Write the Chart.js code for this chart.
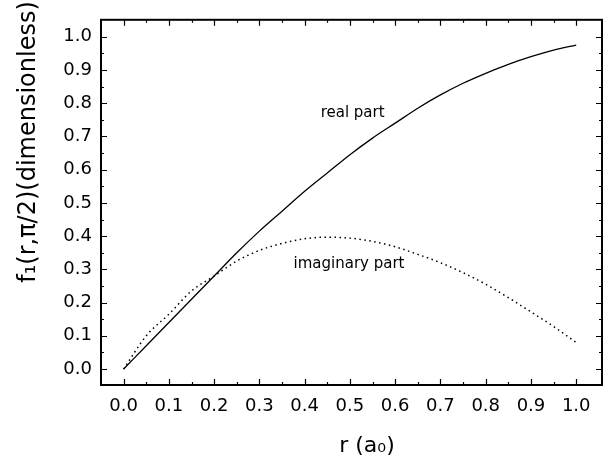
<!DOCTYPE html>
<html>
<head>
<meta charset="utf-8">
<script src="https://cdn.jsdelivr.net/npm/chart.js@4.4.1/dist/chart.umd.min.js"></script>
<style>
  html, body { margin: 0; padding: 0; background: #fff; }
  #wrap { width: 608px; height: 463px; }
</style>
</head>
<body>
<div id="wrap"><canvas id="myChart" width="608" height="463"></canvas></div>
<script>
// r values in units of a0
const rValues = [0, 0.05, 0.1, 0.15, 0.2, 0.25, 0.3, 0.35, 0.4, 0.45, 0.5,
  0.55, 0.6, 0.65, 0.7, 0.75, 0.8, 0.85, 0.9, 0.95, 1.0];
const realPart = [0, 0.07, 0.14, 0.21, 0.28, 0.35, 0.415, 0.475, 0.535, 0.59, 0.645,
  0.695, 0.74, 0.785, 0.825, 0.86, 0.89, 0.917, 0.94, 0.96, 0.975];
const imagPart = [0, 0.1, 0.165, 0.235, 0.28, 0.325, 0.357, 0.378, 0.392, 0.397, 0.394,
  0.384, 0.368, 0.345, 0.32, 0.29, 0.255, 0.215, 0.172, 0.128, 0.08];

const xTicks = [0, 0.1, 0.2, 0.3, 0.4, 0.5, 0.6, 0.7, 0.8, 0.9, 1.0];
const yTicks = [0, 0.1, 0.2, 0.3, 0.4, 0.5, 0.6, 0.7, 0.8, 0.9, 1.0];

const curveLabels = [
  { text: 'real part', x: 0.506, y: 0.77 },
  { text: 'imaginary part', x: 0.498, y: 0.315 },
];

const FONT = 'DejaVu Sans';

const makePoints = (ys) => {
  let out = [];
  for (let i = 0; i < rValues.length; i++) {
    out.push({ x: rValues[i], y: ys[i] });
  }
  return out;
};

// frame, inward ticks, curve labels and axis titles
const framePlugin = {
  id: 'frame',
  afterDraw(chart) {
    const ctx = chart.ctx;
    const a = chart.chartArea;
    const xs = chart.scales.x;
    const ys = chart.scales.y;
    ctx.save();
    ctx.strokeStyle = '#000';
    ctx.lineWidth = 2;
    ctx.strokeRect(a.left, a.top, a.right - a.left, a.bottom - a.top);

    ctx.lineWidth = 1.2;
    ctx.beginPath();
    for (let v = 0; v <= 1.0001; v += 0.05) {
      const major = Math.abs(v * 10 - Math.round(v * 10)) < 0.01;
      const len = major ? 6 : 3;
      const px = Math.round(xs.getPixelForValue(v)) + 0.5;
      ctx.moveTo(px, a.bottom); ctx.lineTo(px, a.bottom - len);
      ctx.moveTo(px, a.top); ctx.lineTo(px, a.top + len);
      const py = Math.round(ys.getPixelForValue(v)) + 0.5;
      ctx.moveTo(a.left, py); ctx.lineTo(a.left + len, py);
      ctx.moveTo(a.right, py); ctx.lineTo(a.right - len, py);
    }
    ctx.stroke();

    ctx.fillStyle = '#000';
    ctx.font = '15px "' + FONT + '"';
    ctx.textAlign = 'center';
    ctx.textBaseline = 'middle';
    curveLabels.forEach((l) => {
      ctx.fillText(l.text, xs.getPixelForValue(l.x), ys.getPixelForValue(l.y));
    });

    ctx.font = '22px "' + FONT + '"';
    ctx.fillText('r (a\u2080)', 367, 446);

    ctx.font = '24px "' + FONT + '"';
    ctx.translate(29, 142);
    ctx.rotate(-Math.PI / 2);
    ctx.fillText('f\u2081(r,\u03c0/2)(dimensionless)', 0, 0);
    ctx.restore();
  },
};

const data = {
  datasets: [
    {
      label: 'real part',
      data: makePoints(realPart),
      borderColor: '#000',
      borderWidth: 1.3,
      pointRadius: 0,
      cubicInterpolationMode: 'monotone',
    },
    {
      label: 'imaginary part',
      data: makePoints(imagPart),
      borderColor: '#000',
      borderWidth: 1.5,
      borderDash: [1.5, 3.5],
      pointRadius: 0,
      cubicInterpolationMode: 'monotone',
    },
  ],
};

const config = {
  type: 'line',
  data: data,
  options: {
    responsive: false,
    animation: false,
    layout: { padding: { top: 17, right: 6, left: 0, bottom: 0 } },
    plugins: {
      legend: { display: false },
      tooltip: { enabled: false },
    },
    scales: {
      x: {
        type: 'linear',
        min: -0.05,
        max: 1.057,
        afterBuildTicks: (s) => { s.ticks = xTicks.map((v) => ({ value: v })); },
        afterFit: (s) => { s.height = 78; },
        grid: { display: false, drawTicks: false },
        border: { display: false },
        ticks: {
          color: '#000',
          padding: 11,
          maxRotation: 0,
          font: { family: FONT, size: 18 },
          callback: (v) => v.toFixed(1),
        },
      },
      y: {
        type: 'linear',
        min: -0.048,
        max: 1.051,
        afterBuildTicks: (s) => { s.ticks = yTicks.map((v) => ({ value: v })); },
        afterFit: (s) => { s.width = 101; },
        grid: { display: false, drawTicks: false },
        border: { display: false },
        ticks: {
          color: '#000',
          padding: 9,
          font: { family: FONT, size: 18 },
          callback: (v) => v.toFixed(1),
        },
      },
    },
  },
  plugins: [framePlugin],
};

const lineChart = new Chart(document.getElementById('myChart'), config);
</script>
</body>
</html>
